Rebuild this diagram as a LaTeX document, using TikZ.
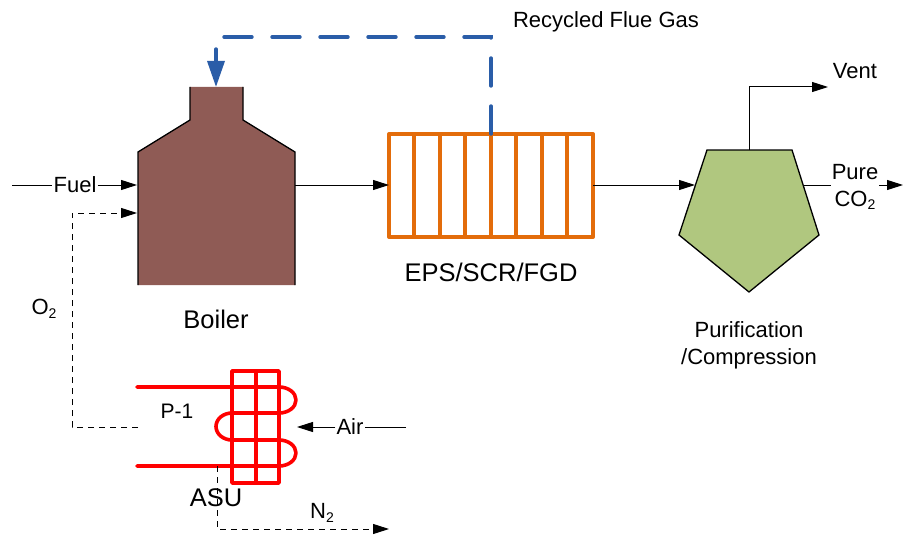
\documentclass[tikz,border=0pt]{standalone}
\usepackage{fontspec}
\setmainfont{Liberation Sans}
\usetikzlibrary{arrows.meta,calc}
\definecolor{boilerfill}{HTML}{8F5B55}
\definecolor{flueblue}{HTML}{2A5DA8}
\definecolor{orangeline}{HTML}{E36C0A}
\definecolor{pentfill}{HTML}{B0C77F}
\definecolor{asured}{HTML}{FF0000}
\newcommand{\subtwo}{\raisebox{-.3ex}{\fontsize{14}{14}\selectfont 2}}
\tikzset{
  flow/.style={line width=1pt,draw=black,-{Triangle[length=16pt,width=10pt]}},
  plain/.style={line width=1pt,draw=black},
  dashflow/.style={flow,dash pattern=on 6pt off 5pt},
  lbl/.style={inner sep=1pt,align=center,text=black,font=\fontsize{22}{27}\selectfont},
  big/.style={lbl,font=\fontsize{25.5}{27}\selectfont},
  gap/.style={lbl,fill=white},
  outline/.style={line width=1.3pt,draw=black,line join=miter},
  coil/.style={line width=3.6pt,draw=asured,line cap=round,line join=round},
  rack/.style={line width=4pt,draw=orangeline,line join=round},
}
\begin{document}
\begin{tikzpicture}[x=1pt,y=-1pt]
\useasboundingbox (0,0) rectangle (903,535);
% named points
\coordinate (fuelin) at (12,185);
\coordinate (boilerFuel) at (137,185);
\coordinate (boilerO2) at (137,213);
\coordinate (boilerOut) at (295,185);
\coordinate (boilerTop) at (216,87);
\coordinate (epsIn) at (389,185);
\coordinate (epsOut) at (593,185);
\coordinate (epsTop) at (491,134);
\coordinate (pentIn) at (695,185);
\coordinate (pentTop) at (749,150);
\coordinate (pentOut) at (803,185);
\coordinate (ventEnd) at (828,87);
\coordinate (co2End) at (903,185);
\coordinate (asuO2) at (138,427);
\coordinate (asuN2) at (217,466);
\coordinate (n2End) at (389,529);
\coordinate (airStart) at (406,427);
\coordinate (airEnd) at (297,427);
\coordinate (corner1) at (491,37);
\coordinate (corner2) at (216,37);
% boiler
\fill[boilerfill] (190,87) -- (243,87) -- (243,120) -- (295,152) -- (295,285) -- (138,285) -- (138,152) -- (190,120) -- cycle;
\draw[outline] (190,87) -- (190,120) -- (138,152) -- (138,285) (243,87) -- (243,120) -- (295,152) -- (295,285);
% EPS rack
\draw[rack] (389,134) rectangle (593,237);
\foreach \x in {414,440,465,491,516,542,567} \draw[line width=3.6pt,draw=orangeline] (\x,134) -- (\x,237);
% pentagon
\draw[outline,fill=pentfill] (707,150) -- (792,150) -- (819,235) -- (749,292) -- (679,235) -- cycle;
% ASU
\draw[coil] (232,371) rectangle (279,483);
\draw[coil] (256,371) -- (256,483);
\draw[coil] (137,387) -- (279,387) arc[start angle=90,end angle=-90,x radius=17pt,y radius=13pt] -- (232,413)
  arc[start angle=90,end angle=270,x radius=16pt,y radius=13.5pt] -- (279,440)
  arc[start angle=90,end angle=-90,x radius=17pt,y radius=13pt] -- (137,466);
% connectors
\node[gap] (fuel) at (75,185) {Fuel};
\draw[plain] (fuelin) -- (fuel);
\draw[flow] (fuel) -- (boilerFuel);
\draw[dashflow] (asuO2) -- (72,427) -- (72,213) -- (boilerO2);
\draw[flow] (boilerOut) -- (epsIn);
\draw[flow] (epsOut) -- (pentIn);
\draw[flow] (pentTop) -- (749,87) -- (ventEnd);
\node[gap] (co2) at (855,187) {Pure\\CO\subtwo};
\draw[plain] (pentOut) -- (pentOut -| co2.west);
\draw[flow] (pentOut -| co2.east) -- (co2End);
\node[gap] (air) at (350,427) {Air};
\draw[plain] (airStart) -- (air);
\draw[flow] (air) -- (airEnd);
\draw[dashflow] (asuN2) -- (217,529) -- (n2End);
% recycled flue gas
\draw[line width=3.4pt,draw=flueblue,line cap=round,dash pattern=on 28pt off 20pt] (epsTop) -- (corner1) -- (corner2) -- (216,62);
\draw[line width=3.4pt,draw=flueblue,-{Triangle[length=26pt,width=17pt]}] (216,50) -- (boilerTop);
% labels
\node[lbl] (recycled) at (606,22) {Recycled Flue Gas};
\node[lbl] (vent) at (855,71) {Vent};
\node[big] (boilerlabel) at (216,319) {Boiler};
\node[big] (eps) at (491,272) {EPS/SCR/FGD};
\node[lbl] (purif) at (749,345) {Purification\\/Compression};
\node[lbl] (o2) at (44,309) {O\subtwo};
\node[lbl,font=\fontsize{21}{27}\selectfont] (p1) at (177,411) {P-1};
\node[big] (asu) at (216,498) {ASU};
\node[lbl] (n2) at (322,513) {N\subtwo};
\end{tikzpicture}
\end{document}
